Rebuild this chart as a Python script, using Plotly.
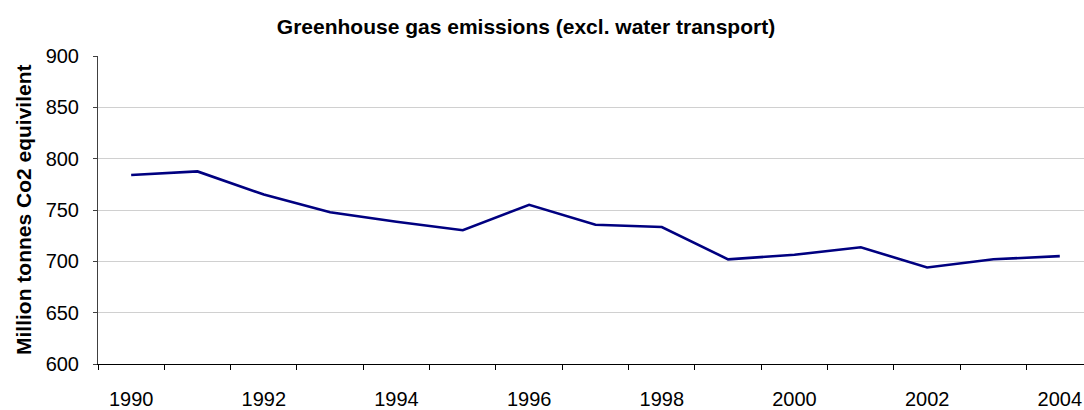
import plotly.graph_objects as go

years = list(range(1990, 2005))
emissions = [784.1, 787.6, 765.0, 747.8, 738.5, 730.3, 755.1, 735.7, 733.4,
             701.9, 706.4, 713.7, 694.0, 702.0, 705.1]
tick_years = [1990, 1992, 1994, 1996, 1998, 2000, 2002, 2004]
tick_labels = [str(y) for y in tick_years]
y_ticks = [600, 650, 700, 750, 800, 850, 900]

W, H = 1084, 410
L, T, B = 98, 56, 40
cat_w = 66.33
plot_w = W - L
x_hi = 1989.5 + plot_w / cat_w

fig = go.Figure()
fig.add_trace(go.Scatter(x=years, y=emissions, mode="lines",
                         line=dict(color="#000080", width=2.6),
                         hoverinfo="skip", showlegend=False))

font_family = "Liberation Sans, Arial, sans-serif"

fig.update_layout(
    width=W, height=H,
    margin=dict(l=L, r=0, t=T, b=B, pad=0),
    paper_bgcolor="white", plot_bgcolor="white",
    font=dict(family=font_family, color="black", size=20),
    title=dict(text="<b>Greenhouse gas emissions (excl. water transport)</b>",
               x=526 / W, xanchor="center", y=1 - 27 / H, yanchor="middle",
               xref="container", yref="container",
               font=dict(size=21, family=font_family, color="black")),
    xaxis=dict(range=[1989.5, x_hi], tickmode="array", tickvals=tick_years,
               ticktext=tick_labels, ticks="", showgrid=False, zeroline=False,
               showline=True, linecolor="black", linewidth=1,
               ticklabelstandoff=17,
               tickfont=dict(size=20, family=font_family, color="black"),
               minor=dict(tick0=1989.5, dtick=1, ticks="outside", ticklen=5,
                          tickcolor="black", tickwidth=1, showgrid=False)),
    yaxis=dict(range=[600, 900], tickmode="array", tickvals=y_ticks,
               ticks="outside", ticklen=4, tickcolor="#404040", tickwidth=1,
               showline=True, linecolor="#404040", linewidth=1,
               showgrid=True, gridcolor="#d0d0d0", gridwidth=1, zeroline=False,
               ticklabelstandoff=10,
               tickfont=dict(size=20, family=font_family, color="black")),
    annotations=[dict(text="<b>Million tonnes Co2 equivilent</b>", textangle=-90,
                      xref="paper", yref="paper", x=(23 - L) / plot_w, y=0.5,
                      xanchor="center", yanchor="middle", showarrow=False,
                      font=dict(size=21, family=font_family, color="black"))],
)

fig.write_html("out.html",
               config={"displayModeBar": False, "staticPlot": True},
               post_script="document.body.style.margin='0';"
                           "document.body.style.overflow='hidden';")
